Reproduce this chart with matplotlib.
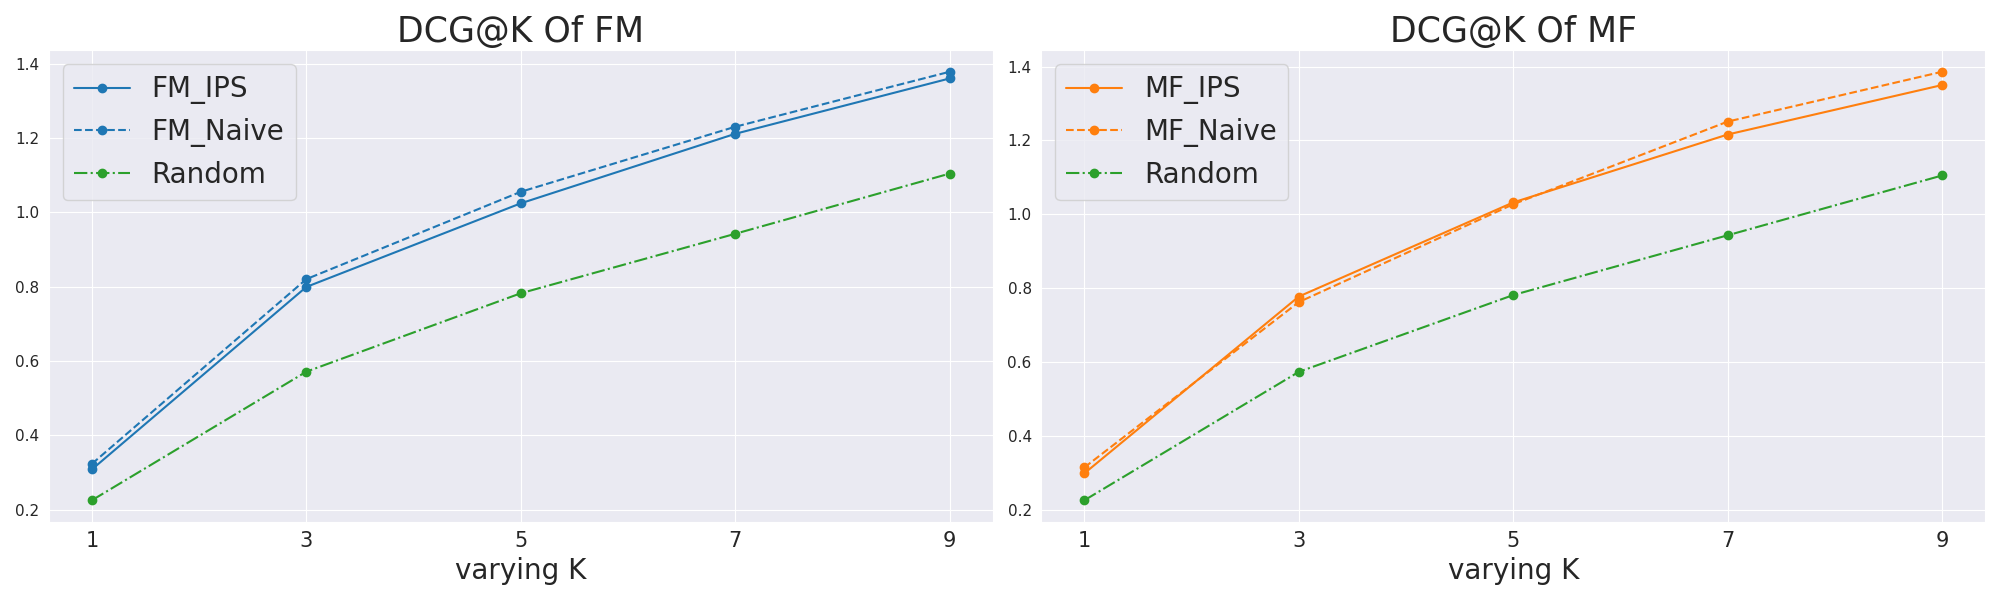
import numpy as np
import seaborn as sns
import matplotlib
matplotlib.use('Agg')
import matplotlib.pyplot as plt

sns.set_style('darkgrid')

K = [1, 3, 5, 7, 9]

fm_ips = [0.308, 0.799, 1.024, 1.211, 1.360]
fm_naive = [0.323, 0.820, 1.055, 1.230, 1.378]
mf_ips = [0.298, 0.777, 1.032, 1.216, 1.350]
mf_naive = [0.314, 0.762, 1.027, 1.251, 1.386]
random_fm = [0.225, 0.571, 0.782, 0.942, 1.104]
random_mf = [0.225, 0.573, 0.781, 0.943, 1.105]

blue = '#1f77b4'
orange = '#ff7f0e'
green = '#2ca02c'

fig, axes = plt.subplots(1, 2, figsize=(20, 6), dpi=100)

panels = [
    ('FM', fm_ips, fm_naive, random_fm, blue),
    ('MF', mf_ips, mf_naive, random_mf, orange),
]

for ax, (name, ips, naive, rnd, c) in zip(axes, panels):
    ax.plot(K, ips, '-o', color=c, label=f'{name}_IPS', markersize=6)
    ax.plot(K, naive, '--o', color=c, label=f'{name}_Naive', markersize=6)
    ax.plot(K, rnd, '-.o', color=green, label='Random', markersize=6)
    ax.set_title(f'DCG@K Of {name}', fontsize=25)
    ax.set_xlabel('varying K', fontsize=20)
    ax.set_xticks(K)
    ax.tick_params(axis='x', labelsize=15)
    ax.tick_params(axis='y', labelsize=11)
    ax.legend(fontsize=20, loc='upper left')

plt.tight_layout()
plt.savefig('out.png')
